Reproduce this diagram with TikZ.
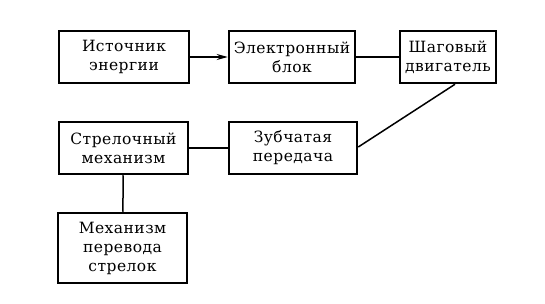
\documentclass[tikz,border=0pt]{standalone}
\usepackage{fontspec}
\setmainfont[LetterSpace=3]{DejaVu Serif}
\usetikzlibrary{arrows.meta}
\tikzset{
  blk/.style={draw, line width=2.5pt, inner sep=0pt, align=center,
    font=\fontsize{15.5}{19}\selectfont},
  link/.style={line width=1.5pt},
}
\begin{document}
\begin{tikzpicture}[x=1pt,y=1pt]
\useasboundingbox (0,0) rectangle (545,303);
\node[blk, minimum width=130pt, minimum height=52pt] (src) at (124,246) {Источник\\энергии};
\node[blk, minimum width=126pt, minimum height=52pt] (el) at (292,246) {Электронный\\блок};
\node[blk, minimum width=96pt, minimum height=52pt] (mot) at (448,246) {Шаговый\\двигатель};
\node[blk, minimum width=129pt, minimum height=52pt] (hand) at (123.5,155) {Стрелочный\\механизм};
\node[blk, minimum width=128pt, minimum height=52pt] (gear) at (293,155) {Зубчатая\\передача};
\node[blk, minimum width=129pt, minimum height=70pt] (set) at (122.5,55) {Механизм\\перевода\\стрелок};
\draw[link, -{Stealth[length=11pt,width=6pt]}] (src) -- (el);
\draw[link] (el) -- (mot);
\draw[link] ([xshift=7pt]mot.south) -- ([yshift=1pt]gear.east);
\draw[link] (hand) -- (gear);
\draw[link] (hand) -- (set);
\end{tikzpicture}
\end{document}
